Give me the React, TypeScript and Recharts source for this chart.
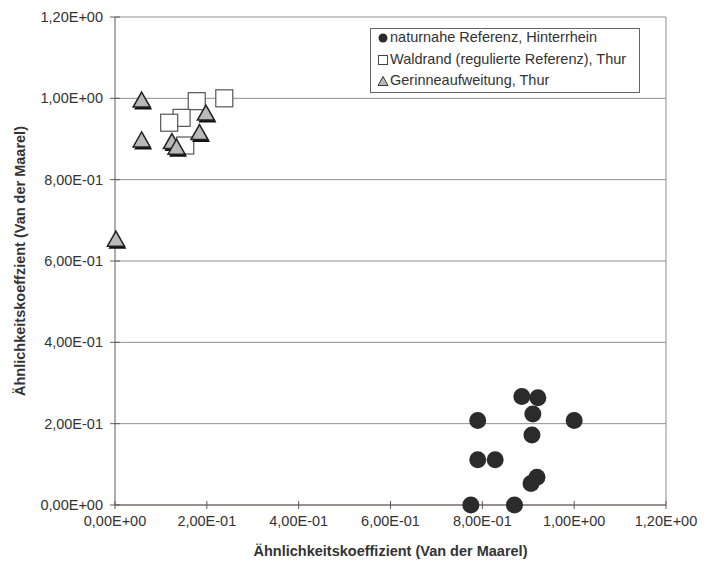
import {
  ScatterChart,
  Scatter,
  XAxis,
  YAxis,
  CartesianGrid,
  ReferenceLine,
} from 'recharts'

const seriesNames = [
  'naturnahe Referenz, Hinterrhein',
  'Waldrand (regulierte Referenz), Thur',
  'Gerinneaufweitung, Thur',
]

const naturnaheX = [0.775, 0.87, 0.79, 1.0, 0.886, 0.921, 0.91, 0.908, 0.79, 0.828, 0.919, 0.906]
const naturnaheY = [0, 0, 0.208, 0.208, 0.267, 0.264, 0.224, 0.172, 0.111, 0.111, 0.068, 0.053]

const waldrandX = [0.178, 0.238, 0.145, 0.118, 0.153]
const waldrandY = [0.993, 1.0, 0.952, 0.94, 0.884]

const gerinneX = [0.058, 0.058, 0.198, 0.184, 0.124, 0.134, 0.002]
const gerinneY = [0.997, 0.899, 0.965, 0.917, 0.895, 0.881, 0.655]

const axisTicks = [0, 0.2, 0.4, 0.6, 0.8, 1.0, 1.2]

const xTitle = 'Ähnlichkeitskoeffizient (Van der Maarel)'
const yTitle = 'Ähnlichkeitskoeffzient (Van der Maarel)'

const FONT = '"Liberation Sans", Arial, sans-serif'
const AXIS = '#665855'
const GRID = '#8e8e8e'
const TEXT = '#333'
const FS = 14.5

const toPoints = (xs: number[], ys: number[]) => xs.map((x, i) => ({ x, y: ys[i] }))

// Excel style: 2,00E-01
const sci = (v: number): string => {
  const [m, e] = v.toExponential(2).split('e')
  const n = parseInt(e, 10)
  const sign = n < 0 ? '-' : '+'
  return `${m.replace('.', ',')}E${sign}${String(Math.abs(n)).padStart(2, '0')}`
}

const YTick = (props: any) => {
  const { x, y, payload } = props
  return (
    <g>
      <line x1={x - 5} x2={x + 5} y1={y} y2={y} stroke={AXIS} />
      <text x={x - 12} y={y} dy="0.35em" textAnchor="end" fill={TEXT} fontSize={FS} fontFamily={FONT}>
        {sci(payload.value)}
      </text>
    </g>
  )
}

const XTick = (props: any) => {
  const { x, y, payload } = props
  return (
    <g>
      <line x1={x} x2={x} y1={y - 4} y2={y + 4} stroke={AXIS} />
      <text x={x} y={y + 16} dy="0.35em" textAnchor="middle" fill={TEXT} fontSize={FS} fontFamily={FONT}>
        {sci(payload.value)}
      </text>
    </g>
  )
}

const Dot = (props: any) => {
  const { cx, cy } = props
  return <circle cx={cx} cy={cy} r={8.5} fill="#2b2b2b" />
}

const Square = (props: any) => {
  const { cx, cy } = props
  return <rect x={cx - 8.5} y={cy - 8.5} width={17} height={17} fill="#fff" stroke="#555" strokeWidth={1.2} />
}

const triPts = (cx: number, cy: number, w: number, h: number) =>
  `${cx},${cy - h / 2} ${cx + w / 2},${cy + h / 2} ${cx - w / 2},${cy + h / 2}`

const Triangle = (props: any) => {
  const { cx, cy } = props
  return (
    <g>
      <polygon points={triPts(cx + 1.5, cy + 2.5, 18, 15)} fill="#111" />
      <polygon points={triPts(cx, cy, 17, 15)} fill="#b9b9b9" stroke="#222" strokeWidth={1.5} strokeLinejoin="miter" />
    </g>
  )
}

const LegendMarker = ({ i }: { i: number }) => (
  <svg width={12} height={12} style={{ position: 'absolute', left: 6, top: 5 }}>
    {i === 0 && <circle cx={6} cy={6} r={4.5} fill="#2b2b2b" />}
    {i === 1 && <rect x={1.5} y={1.5} width={9} height={9} fill="#fff" stroke="#444" />}
    {i === 2 && <polygon points="6,1.5 11,10.5 1,10.5" fill="#b9b9b9" stroke="#333" />}
  </svg>
)

export default function App() {
  return (
    <div style={{ position: 'absolute', left: 0, top: 0, width: 714, height: 564, background: '#fff' }}>
      <ScatterChart width={714} height={564} margin={{ top: 17, right: 48, bottom: 0, left: 0 }}>
        <CartesianGrid vertical={false} stroke={GRID} />
        <XAxis
          type="number"
          dataKey="x"
          domain={[0, 1.2]}
          ticks={axisTicks}
          height={59}
          stroke={AXIS}
          tickLine={false}
          tickSize={0}
          tickMargin={0}
          tick={<XTick />}
          label={{
            content: () => (
              <text x={390.5} y={551} textAnchor="middle" dy="0.35em" fontWeight="bold" fontSize={FS} fill={TEXT} fontFamily={FONT}>
                {xTitle}
              </text>
            ),
          }}
        />
        <YAxis
          type="number"
          dataKey="y"
          domain={[0, 1.2]}
          ticks={axisTicks}
          width={115}
          stroke={AXIS}
          tickLine={false}
          tickSize={0}
          tickMargin={0}
          tick={<YTick />}
          label={{
            content: () => (
              <text
                x={20}
                y={261}
                transform="rotate(-90 20 261)"
                textAnchor="middle"
                dy="0.35em"
                fontWeight="bold"
                fontSize={FS}
                fill={TEXT}
                fontFamily={FONT}
              >
                {yTitle}
              </text>
            ),
          }}
        />
        <ReferenceLine x={1.2} stroke={GRID} />
        <Scatter name={seriesNames[0]} data={toPoints(naturnaheX, naturnaheY)} shape={<Dot />} isAnimationActive={false} />
        <Scatter name={seriesNames[1]} data={toPoints(waldrandX, waldrandY)} shape={<Square />} isAnimationActive={false} />
        <Scatter name={seriesNames[2]} data={toPoints(gerinneX, gerinneY)} shape={<Triangle />} isAnimationActive={false} />
      </ScatterChart>
      <div
        style={{
          position: 'absolute',
          left: 370,
          top: 28,
          width: 270,
          height: 65,
          boxSizing: 'border-box',
          border: '1px solid #666',
          background: '#fff',
          fontFamily: FONT,
          fontSize: FS,
          color: TEXT,
          paddingTop: 0,
        }}
      >
        <div style={{ marginTop: -2 }}>
          {seriesNames.map((name, i) => (
            <div key={name} style={{ position: 'relative', height: 21.5, lineHeight: '21.5px', paddingLeft: 19, whiteSpace: 'nowrap' }}>
              <LegendMarker i={i} />
              {name}
            </div>
          ))}
        </div>
      </div>
    </div>
  )
}
